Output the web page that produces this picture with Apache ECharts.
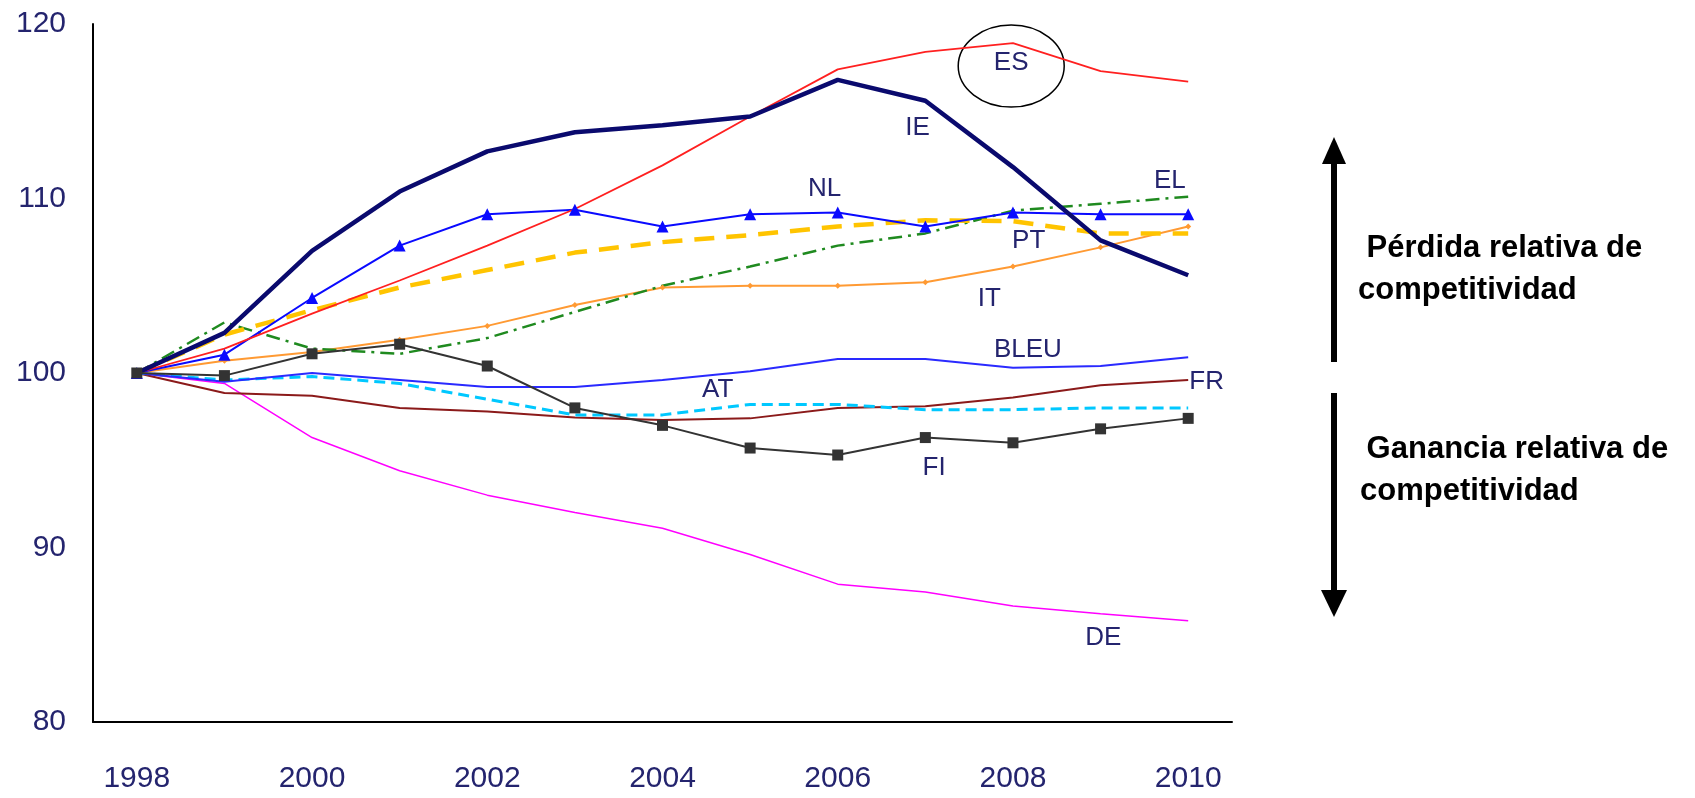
<!DOCTYPE html>
<html>
<head>
<meta charset="utf-8">
<script src="https://cdn.jsdelivr.net/npm/echarts@6/dist/echarts.min.js"></script>
<style>
  html, body { margin: 0; padding: 0; background: #fff; }
  #chart { width: 1695px; height: 798px; }
</style>
</head>
<body>
<div id="chart"></div>
<script>
// años
const years = [1998, 1999, 2000, 2001, 2002, 2003, 2004, 2005, 2006, 2007, 2008, 2009, 2010];
const yearTicks = [1998, 2000, 2002, 2004, 2006, 2008, 2010];

// índices (1998 = 100)
const ES   = [100, 101.4, 103.4, 105.3, 107.3, 109.4, 111.9, 114.7, 117.4, 118.4, 118.9, 117.3, 116.7];
const IE   = [100, 102.3, 107.0, 110.4, 112.7, 113.8, 114.2, 114.7, 116.8, 115.6, 111.8, 107.6, 105.6];
const NL   = [100, 101.05, 104.3, 107.3, 109.1, 109.35, 108.4, 109.1, 109.2, 108.4, 109.2, 109.1, 109.1];
const PT   = [100, 102.2, 103.6, 104.9, 105.9, 106.9, 107.5, 107.9, 108.4, 108.75, 108.7, 108.0, 108.0];
const EL   = [100, 102.9, 101.4, 101.1, 102.0, 103.5, 105.0, 106.1, 107.3, 108.0, 109.3, 109.7, 110.1];
const IT   = [100, 100.7, 101.2, 101.9, 102.7, 103.9, 104.9, 105.0, 105.0, 105.2, 106.1, 107.2, 108.4];
const BLEU = [100, 99.5, 100.0, 99.6, 99.2, 99.2, 99.6, 100.1, 100.8, 100.8, 100.3, 100.4, 100.9];
const FR   = [100, 98.85, 98.7, 98.0, 97.8, 97.45, 97.3, 97.4, 98.0, 98.1, 98.6, 99.3, 99.6];
const AT   = [100, 99.6, 99.8, 99.4, 98.5, 97.6, 97.6, 98.2, 98.2, 97.9, 97.9, 98.0, 98.0];
const FI   = [100, 99.85, 101.1, 101.65, 100.4, 98.0, 97.0, 95.7, 95.3, 96.3, 96.0, 96.8, 97.4];
const DE   = [100, 99.4, 96.3, 94.4, 93.0, 92.0, 91.1, 89.6, 87.9, 87.45, 86.65, 86.2, 85.8];

// etiquetas de país [texto, año, valor]
const countryLabels = [
  ['ES', 2007.98, 117.76],
  ['IE', 2006.91, 114.04],
  ['NL', 2005.85, 110.54],
  ['EL', 2009.79, 111.0],
  ['PT', 2008.18, 107.56],
  ['IT', 2007.73, 104.24],
  ['BLEU', 2008.17, 101.32],
  ['FR', 2010.21, 99.48],
  ['AT', 2004.63, 99.03],
  ['FI', 2007.1, 94.56],
  ['DE', 2009.03, 84.81]
];
const circleAt = [2007.98, 117.59];

const sans = '"Liberation Sans", Arial, sans-serif';
const navy = '#24246e';

const pairs = arr => years.map((y, i) => [y, arr[i]]);

function line(name, data, color, width, type, symbol, symbolSize) {
  return {
    name: name,
    type: 'line',
    data: pairs(data),
    symbol: symbol || 'none',
    symbolSize: symbolSize || 0,
    showSymbol: !!symbol,
    itemStyle: { color: color },
    lineStyle: { color: color, width: width, type: type || 'solid', cap: 'butt' },
    silent: true,
    animation: false
  };
}

const chart = echarts.init(document.getElementById('chart'));
const option = {
  backgroundColor: '#fff',
  animation: false,
  grid: { left: 93, right: 463, top: 24, bottom: 76 },
  xAxis: {
    type: 'value',
    min: 1997.5,
    max: 2010.5,
    splitLine: { show: false },
    axisTick: { show: false },
    axisLine: { show: true, lineStyle: { color: '#000', width: 2 } },
    axisLabel: {
      customValues: yearTicks,
      formatter: v => String(v),
      color: navy,
      fontFamily: sans,
      fontSize: 30,
      margin: 42
    }
  },
  yAxis: {
    type: 'value',
    min: 80,
    max: 120,
    interval: 10,
    splitLine: { show: false },
    axisTick: { show: false },
    axisLine: { show: true, lineStyle: { color: '#000', width: 2 } },
    axisLabel: {
      color: navy,
      fontFamily: sans,
      fontSize: 30,
      margin: 27
    }
  },
  series: [
    line('DE', DE, '#ff00ff', 1.5),
    line('FR', FR, '#8b1a1a', 2),
    line('AT', AT, '#00c8ff', 3, [11, 6]),
    line('BLEU', BLEU, '#2a2aff', 2),
    line('IT', IT, '#ff9a33', 2, 'solid', 'diamond', 6),
    line('EL', EL, '#1f8a1f', 2.5, [14, 6, 3, 6]),
    line('PT', PT, '#ffc400', 4.5, [20, 12]),
    line('NL', NL, '#0a0aff', 2, 'solid', 'triangle', 12),
    line('ES', ES, '#ff2020', 1.8),
    line('IE', IE, '#0a0a6e', 4.5),
    line('FI', FI, '#333333', 2, 'solid', 'rect', 11)
  ]
};
chart.setOption(option);

// anotaciones
const graphics = countryLabels.map(([txt, x, y]) => {
  const p = chart.convertToPixel({ xAxisIndex: 0, yAxisIndex: 0 }, [x, y]);
  return {
    type: 'text', x: p[0], y: p[1], silent: true,
    style: {
      text: txt, fill: navy, font: '26px ' + sans,
      align: 'center', verticalAlign: 'middle'
    }
  };
});
const c = chart.convertToPixel({ xAxisIndex: 0, yAxisIndex: 0 }, circleAt);
graphics.push({
  type: 'ellipse', silent: true,
  shape: { cx: c[0], cy: c[1], rx: 53, ry: 41 },
  style: { fill: 'none', stroke: '#000', lineWidth: 1.5 }
});

// flechas de la derecha
const ax = 1334;
graphics.push(
  { type: 'line', silent: true, shape: { x1: ax, y1: 362, x2: ax, y2: 158 }, style: { stroke: '#000', lineWidth: 6 } },
  { type: 'polygon', silent: true, shape: { points: [[ax, 137], [ax - 12, 164], [ax + 12, 164]] }, style: { fill: '#000' } },
  { type: 'line', silent: true, shape: { x1: ax, y1: 393, x2: ax, y2: 596 }, style: { stroke: '#000', lineWidth: 6 } },
  { type: 'polygon', silent: true, shape: { points: [[ax, 617], [ax - 13, 590], [ax + 13, 590]] }, style: { fill: '#000' } }
);
const boldFont = 'bold 31px "Liberation Sans", Arial, sans-serif';
[
  [' Pérdida relativa de', 1358, 248],
  ['competitividad', 1358, 290],
  [' Ganancia relativa de', 1358, 449],
  ['competitividad', 1360, 491]
].forEach(([t, x, y]) => {
  graphics.push({
    type: 'text', x: x, y: y, silent: true,
    style: { text: t, fill: '#000', font: boldFont, align: 'left', verticalAlign: 'middle' }
  });
});
chart.setOption({ graphic: graphics });
</script>
</body>
</html>
